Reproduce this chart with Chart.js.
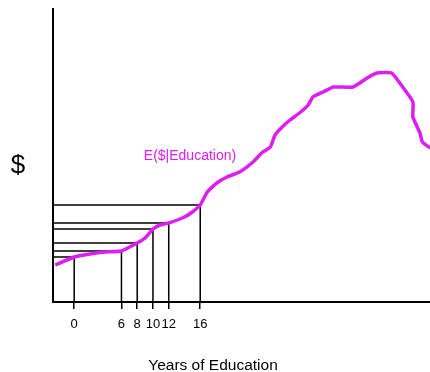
<!DOCTYPE html>
<html>
<head>
<meta charset="utf-8">
<script src="https://cdn.jsdelivr.net/npm/chart.js@4"></script>
<style>
  html, body { margin: 0; padding: 0; background: #fff; }
  #wrap { width: 430px; height: 372px; }
</style>
</head>
<body>
<div id="wrap"><canvas id="myChart" width="430" height="372"></canvas></div>
<script>
// years of education (x) and expected earnings (y, arbitrary units)
const curveYears = [-2.4, 0, 2, 3.9, 6, 8, 9, 10, 10.9, 12, 14, 15, 16, 16.9, 18.1, 19.4, 21, 22.7, 23.8, 24.9, 25.5, 26.4, 27.4, 28.6, 29.7, 30.3, 31.6, 32.9, 35.4, 37.2, 38.4, 40.3, 41.7, 43, 43, 43.9, 44.2, 45.2, 46];
const curveValues = [37, 45, 48, 50, 51, 59, 64, 73, 77, 79, 85, 90, 97, 110, 119, 125, 130, 140, 149, 155, 167, 175, 182, 189, 197, 205, 210, 215, 215, 224, 229, 229, 215, 200, 185, 169, 160, 154, 150];

const tickYears = [0, 6, 8, 10, 12, 16];
const tickValues = [45, 51, 59, 73, 79, 97];

const curveLabel = 'E($|Education)';
const labelYear = 14.7;
const labelValue = 146;
const xTitle = 'Years of Education';
const yTitle = '$';

const xMin = -2.69, xMax = 45.17;
const yMin = 0, yMax = 293;

const magenta = '#de1ef0';
const fontFamily = '"Liberation Sans", Arial, sans-serif';

// one dataset per year: horizontal from the y axis, then down to the x axis
const dropSets = tickYears.map((t, i) => ({
  data: [
    { x: xMin, y: tickValues[i] },
    { x: t, y: tickValues[i] },
    { x: t, y: yMin }
  ],
  borderColor: '#000',
  borderWidth: 1.5,
  pointRadius: 0,
  fill: false,
  tension: 0
}));

const textPlugin = {
  id: 'textPlugin',
  afterDraw(chart) {
    const ctx = chart.ctx;
    const xs = chart.scales.x, ys = chart.scales.y;
    ctx.save();
    ctx.textAlign = 'center';
    ctx.textBaseline = 'middle';
    ctx.fillStyle = magenta;
    ctx.font = '14px ' + fontFamily;
    ctx.fillText(curveLabel, xs.getPixelForValue(labelYear), ys.getPixelForValue(labelValue));
    ctx.fillStyle = '#000';
    ctx.font = '26px ' + fontFamily;
    ctx.fillText(yTitle, 18, 166);
    ctx.font = '15.5px ' + fontFamily;
    ctx.fillText(xTitle, 213, 366);
    ctx.restore();
  }
};

const ctx = document.getElementById('myChart').getContext('2d');
new Chart(ctx, {
  type: 'line',
  data: {
    datasets: [
      {
        data: curveYears.map((x, i) => ({ x: x, y: curveValues[i] })),
        borderColor: magenta,
        borderWidth: 3.5,
        pointRadius: 0,
        fill: false,
        tension: 0.15
      },
      ...dropSets
    ]
  },
  options: {
    responsive: false,
    animation: false,
    layout: { padding: { top: 9, right: 0, left: 0, bottom: 0 } },
    plugins: {
      legend: { display: false },
      tooltip: { enabled: false }
    },
    scales: {
      x: {
        type: 'linear',
        min: xMin,
        max: xMax,
        afterFit: (scale) => { scale.height = 70; },
        afterBuildTicks: (scale) => { scale.ticks = tickYears.map(v => ({ value: v })); },
        ticks: {
          autoSkip: false,
          maxRotation: 0,
          padding: 8,
          color: '#000',
          font: { family: fontFamily, size: 13 }
        },
        grid: {
          drawOnChartArea: false,
          drawTicks: true,
          tickLength: 7,
          color: '#000',
          lineWidth: 1.5
        },
        border: { display: true, color: '#000', width: 2 }
      },
      y: {
        type: 'linear',
        min: yMin,
        max: yMax,
        afterFit: (scale) => { scale.width = 53; },
        ticks: { display: false },
        grid: { display: false },
        border: { display: true, color: '#000', width: 2 }
      }
    }
  },
  plugins: [textPlugin]
});
</script>
</body>
</html>
